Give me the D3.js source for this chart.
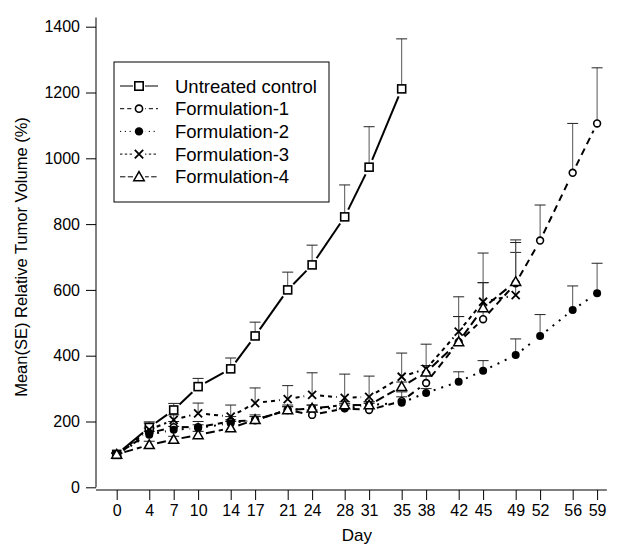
<!DOCTYPE html>
<html>
<head>
<meta charset="utf-8">
<script src="https://cdn.jsdelivr.net/npm/d3@7"></script>
<style>
  body { margin: 0; background: #fff; }
  svg text { font-family: Arial, "Liberation Sans", sans-serif; fill: #000; }
</style>
</head>
<body>
<svg id="chart" width="620" height="544"></svg>
<script>
const days = [0, 4, 7, 10, 14, 17, 21, 24, 28, 31, 35, 38, 42, 45, 49, 52, 56, 59];
const yTicks = [0, 200, 400, 600, 800, 1000, 1200, 1400];
const seriesNames = ['Untreated control', 'Formulation-1', 'Formulation-2', 'Formulation-3', 'Formulation-4'];

// means (%) per day, and mean + SE (upper end of the error bar)
const controlMean  = [100, 182, 235, 306, 360, 460, 600, 676, 822, 973, 1211];
const controlUpper = [104, 199, 255, 331, 393, 502, 654, 736, 919, 1096, 1363];
const f1Mean  = [100, 165, 183, 183, 200, 204, 235, 220, 240, 235, 262, 317, 442, 511, 620, 750, 956, 1106];
const f1Upper = [104, 180, 200, 200, 215, 220, 250, 235, 255, 255, 290, 340, 519, 622, 752, 858, 1106, 1275];
const f2Mean  = [100, 160, 175, 180, 195, 205, 235, 240, 240, 250, 257, 287, 321, 354, 402, 460, 539, 590];
const f2Upper = [104, 170, 185, 190, 205, 215, 245, 250, 250, 260, 275, 300, 351, 385, 451, 525, 612, 681];
const f3Mean  = [100, 175, 205, 225, 215, 256, 268, 281, 272, 275, 336, 360, 473, 564, 584];
const f3Upper = [104, 195, 220, 256, 250, 302, 309, 348, 344, 338, 408, 435, 579, 712, 714];
const f4Mean  = [100, 129, 145, 159, 180, 205, 235, 240, 250, 250, 306, 350, 442, 545, 625];
const f4Upper = [103, 140, 155, 170, 200, 215, 245, 250, 260, 260, 320, 370, 519, 622, 744];

const series = [
  { name: seriesNames[0], mean: controlMean, upper: controlUpper, dash: null,  marker: 'square' },
  { name: seriesNames[1], mean: f1Mean, upper: f1Upper, dash: '7,5', marker: 'openCircle' },
  { name: seriesNames[2], mean: f2Mean, upper: f2Upper, dash: '2,6', marker: 'dot' },
  { name: seriesNames[3], mean: f3Mean, upper: f3Upper, dash: '4,4', marker: 'cross' },
  { name: seriesNames[4], mean: f4Mean, upper: f4Upper, dash: '9,4', marker: 'triangle' }
];

const svg = d3.select('#chart');

const x = d3.scaleLinear().domain([0, 59]).range([116.7, 597.1]);
const y = d3.scaleLinear().domain([0, 1400]).range([487.3, 26.7]);

// axes
const xAxisY = 490;
const yAxisX = 96;

svg.append('line')
  .attr('x1', yAxisX).attr('x2', yAxisX)
  .attr('y1', y(0)).attr('y2', y(1428))
  .attr('stroke', '#000').attr('stroke-width', 1);

svg.append('line')
  .attr('x1', yAxisX).attr('x2', x(60.2))
  .attr('y1', xAxisY).attr('y2', xAxisY)
  .attr('stroke', '#000').attr('stroke-width', 1);

const yAxis = svg.append('g')
  .attr('transform', `translate(${yAxisX},0)`)
  .call(d3.axisLeft(y).tickValues(yTicks).tickSize(10).tickPadding(6).tickFormat(d3.format('d')));
yAxis.select('.domain').remove();
yAxis.selectAll('text').style('font-size', '16px').attr('font-family', null);

const xAxis = svg.append('g')
  .attr('transform', `translate(0,${xAxisY})`)
  .call(d3.axisBottom(x).tickValues(days).tickSize(10).tickPadding(5).tickFormat(d3.format('d')));
xAxis.select('.domain').remove();
xAxis.selectAll('text').style('font-size', '16px').attr('font-family', null);

svg.append('text')
  .attr('transform', `translate(27,${(y(0) + y(1400)) / 2}) rotate(-90)`)
  .attr('text-anchor', 'middle')
  .style('font-size', '16.5px')
  .text('Mean(SE) Relative Tumor Volume (%)');

svg.append('text')
  .attr('x', (x(0) + x(59)) / 2)
  .attr('y', 541)
  .attr('text-anchor', 'middle')
  .style('font-size', '17px')
  .text('Day');

// markers
function drawMarker(g, type, cx, cy, s) {
  s = s || 1;
  if (type === 'square') {
    g.append('rect').attr('x', cx - 4 * s).attr('y', cy - 4 * s)
      .attr('width', 8 * s).attr('height', 8 * s)
      .attr('fill', '#fff').attr('stroke', '#000').attr('stroke-width', 1.6);
  } else if (type === 'openCircle') {
    g.append('circle').attr('cx', cx).attr('cy', cy).attr('r', 3.4 * s)
      .attr('fill', '#fff').attr('stroke', '#000').attr('stroke-width', 1.6);
  } else if (type === 'dot') {
    g.append('circle').attr('cx', cx).attr('cy', cy).attr('r', 4 * s)
      .attr('fill', '#000');
  } else if (type === 'cross') {
    const d = 4 * s;
    g.append('path')
      .attr('d', `M${cx - d},${cy - d}L${cx + d},${cy + d}M${cx - d},${cy + d}L${cx + d},${cy - d}`)
      .attr('stroke', '#000').attr('stroke-width', 1.8).attr('fill', 'none');
  } else if (type === 'triangle') {
    const d = 5 * s;
    g.append('path')
      .attr('d', `M${cx},${cy - d}L${cx + d},${cy + d * 0.75}L${cx - d},${cy + d * 0.75}Z`)
      .attr('fill', '#fff').attr('stroke', '#000').attr('stroke-width', 1.5);
  }
}

const plot = svg.append('g');

// error bars first
series.forEach(s => {
  const eb = plot.append('g');
  s.mean.forEach((m, i) => {
    const cx = x(days[i]);
    eb.append('line')
      .attr('x1', cx).attr('x2', cx)
      .attr('y1', y(m)).attr('y2', y(s.upper[i]))
      .attr('stroke', '#555').attr('stroke-width', 1);
    eb.append('line')
      .attr('x1', cx - 5.5).attr('x2', cx + 5.5)
      .attr('y1', y(s.upper[i])).attr('y2', y(s.upper[i]))
      .attr('stroke', '#222').attr('stroke-width', 1);
  });
});

// lines with gaps around the points
const gap = 8;
series.forEach(s => {
  const g = plot.append('g');
  for (let i = 0; i < s.mean.length - 1; i++) {
    const x1 = x(days[i]), y1 = y(s.mean[i]);
    const x2 = x(days[i + 1]), y2 = y(s.mean[i + 1]);
    const len = Math.hypot(x2 - x1, y2 - y1);
    if (len <= 2 * gap) continue;
    const ux = (x2 - x1) / len, uy = (y2 - y1) / len;
    g.append('line')
      .attr('x1', x1 + ux * gap).attr('y1', y1 + uy * gap)
      .attr('x2', x2 - ux * gap).attr('y2', y2 - uy * gap)
      .attr('stroke', '#000').attr('stroke-width', 2)
      .attr('stroke-dasharray', s.dash);
  }
});

// points
series.forEach(s => {
  const g = plot.append('g');
  s.mean.forEach((m, i) => drawMarker(g, s.marker, x(days[i]), y(m)));
});

// legend
const legend = svg.append('g');
legend.append('rect')
  .attr('x', 114).attr('y', 62).attr('width', 215).attr('height', 140)
  .attr('fill', '#fff').attr('stroke', '#000').attr('stroke-width', 1);

series.forEach((s, i) => {
  const ly = 86 + i * 22.7;
  legend.append('line')
    .attr('x1', 120).attr('x2', 158)
    .attr('y1', ly).attr('y2', ly)
    .attr('stroke', '#000').attr('stroke-width', 1)
    .attr('stroke-dasharray', s.dash ? s.dash.split(',').map(v => v * 0.6).join(',') : null);
  legend.append('rect')
    .attr('x', 133).attr('y', ly - 6).attr('width', 12).attr('height', 12)
    .attr('fill', '#fff');
  drawMarker(legend, s.marker, 139, ly, 1.05);
  legend.append('text')
    .attr('x', 175).attr('y', ly + 6.5)
    .style('font-size', '18.5px')
    .text(s.name);
});
</script>
</body>
</html>
